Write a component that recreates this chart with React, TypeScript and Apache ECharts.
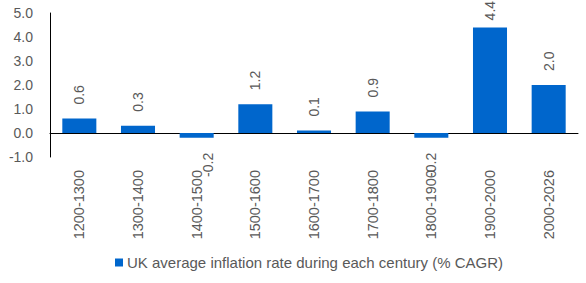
import React, { useEffect, useRef } from "react";
import * as echarts from "echarts";

const categories = [
  "1200-1300",
  "1300-1400",
  "1400-1500",
  "1500-1600",
  "1600-1700",
  "1700-1800",
  "1800-1900",
  "1900-2000",
  "2000-2026",
];
const inflation = [0.6, 0.3, -0.2, 1.2, 0.1, 0.9, -0.2, 4.4, 2.0];
const seriesName = "UK average inflation rate during each century (% CAGR)";

const FONT = "'Liberation Sans', Arial, sans-serif";
const TEXT = "#595959";
const BAR = "#0066CC";

export default function App() {
  const ref = useRef<HTMLDivElement>(null);

  useEffect(() => {
    if (!ref.current) return;
    const chart = echarts.init(ref.current, undefined, { renderer: "svg" });

    const data = inflation.map((v, i) => {
      const positive = v >= 0;
      const label: any = positive
        ? { position: "top", align: "left", distance: v > 4 ? 7 : 14 }
        : { position: "bottom", align: "right", distance: 15, offset: i === 2 ? [0, 11] : [0, 0] };
      return { value: v, label };
    });

    chart.setOption({
      animation: false,
      textStyle: { fontFamily: FONT },
      grid: { left: 50, right: 8, top: 13, bottom: 126, containLabel: false },
      legend: {
        show: true,
        bottom: 8,
        left: 110,
        icon: "rect",
        itemWidth: 8,
        itemHeight: 8,
        itemGap: 10,
        textStyle: { color: TEXT, fontSize: 15, fontFamily: FONT, padding: [0, 0, 0, -1] },
        data: [seriesName],
      },
      xAxis: {
        type: "category",
        data: categories,
        axisLine: { onZero: true, lineStyle: { color: "#000", width: 1 } },
        axisTick: { show: false },
        axisLabel: {
          rotate: 90,
          margin: 13,
          interval: 0,
          color: TEXT,
          fontSize: 14.5,
          fontFamily: FONT,
        },
      },
      yAxis: {
        type: "value",
        min: -1,
        max: 5,
        interval: 1,
        splitLine: { show: false },
        axisLine: { show: true, lineStyle: { color: "#000", width: 1 } },
        axisTick: { show: false },
        axisLabel: {
          margin: 17,
          color: TEXT,
          fontSize: 14,
          fontFamily: FONT,
          formatter: (v: number) => v.toFixed(1),
        },
      },
      series: [
        {
          name: seriesName,
          type: "bar",
          data,
          barWidth: "58%",
          itemStyle: { color: BAR },
          label: {
            show: true,
            rotate: 90,
            verticalAlign: "middle",
            color: TEXT,
            fontSize: 14,
            fontFamily: FONT,
            formatter: (p: any) => Number(p.value).toFixed(1),
          },
        },
      ],
    });

    return () => chart.dispose();
  }, []);

  return (
    <div
      ref={ref}
      style={{ position: "fixed", left: 0, top: 0, width: 586, height: 283, background: "#fff" }}
    />
  );
}
